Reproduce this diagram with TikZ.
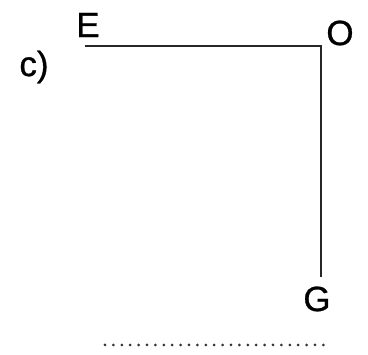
\documentclass[tikz,border=0pt]{standalone}
\usepackage{fontspec}
\setmainfont{Liberation Sans}
\newfontfamily\lblfont{Liberation Sans}[FakeBold=0.8]
\begin{document}
\begin{tikzpicture}[x=1pt,y=-1pt,
  lbl/.style={inner sep=0pt,font=\lblfont\fontsize{35}{40}\selectfont},
  seg/.style={line width=2.6pt,color=black!85},
  dots/.style={line width=3pt,color=black!80,line cap=round,dash pattern=on 0pt off 8.4pt}]
\useasboundingbox (0,0) rectangle (368,355);
\node[lbl] (c) at (34,67) {c)};
\node[lbl] (E) at (88,25) {E};
\node[lbl] (O) at (340,33) {O};
\node[lbl] (G) at (317,299) {G};
\coordinate (e) at (85,46);
\coordinate (o) at (321,46);
\coordinate (g) at (321,277);
\draw[seg] (e) -- (o) -- (g);
\coordinate (d1) at (105,345);
\coordinate (d2) at (326,345);
\draw[dots] (d1) -- (d2);
\end{tikzpicture}
\end{document}
